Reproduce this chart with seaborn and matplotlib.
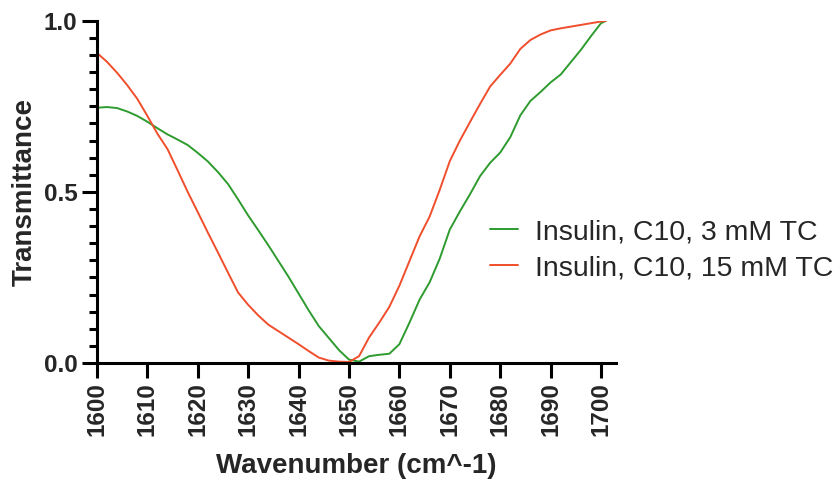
import matplotlib
matplotlib.use("Agg")
import matplotlib.pyplot as plt
from matplotlib.ticker import MultipleLocator
import pandas as pd
import seaborn as sns

# Wavenumber grid (cm^-1) shared by both spectra
wavenumber = [
    1600, 1602, 1604, 1606, 1608, 1610, 1612, 1614, 1616, 1618,
    1620, 1622, 1624, 1626, 1628, 1630, 1632, 1634, 1636, 1638,
    1640, 1642, 1644, 1646, 1648, 1650, 1652, 1654, 1656, 1658,
    1660, 1662, 1664, 1666, 1668, 1670, 1672, 1674, 1676, 1678,
    1680, 1682, 1684, 1686, 1688, 1690, 1692, 1694, 1696, 1698,
    1700, 1701,
]

# Normalised transmittance, 3 mM TC
trans_3mM = [
    0.746, 0.748, 0.745, 0.735, 0.722, 0.705, 0.686, 0.668, 0.653, 0.637,
    0.614, 0.589, 0.558, 0.523, 0.478, 0.431, 0.388, 0.344, 0.298, 0.252,
    0.203, 0.154, 0.108, 0.073, 0.038, 0.010, 0.004, 0.020, 0.024, 0.027,
    0.055, 0.118, 0.185, 0.236, 0.305, 0.390, 0.443, 0.493, 0.546, 0.585,
    0.615, 0.660, 0.724, 0.766, 0.792, 0.820, 0.843, 0.879, 0.915, 0.955,
    0.993, 1.000,
]

# Normalised transmittance, 15 mM TC
trans_15mM = [
    0.906, 0.880, 0.848, 0.812, 0.772, 0.722, 0.670, 0.625, 0.563, 0.500,
    0.441, 0.381, 0.323, 0.264, 0.206, 0.170, 0.139, 0.112, 0.093, 0.074,
    0.055, 0.035, 0.016, 0.007, 0.004, 0.003, 0.020, 0.075, 0.118, 0.164,
    0.226, 0.298, 0.370, 0.428, 0.506, 0.590, 0.650, 0.704, 0.757, 0.808,
    0.842, 0.875, 0.918, 0.944, 0.960, 0.972, 0.978, 0.983, 0.988, 0.993,
    0.998, 1.000,
]

series_names = ["Insulin, C10, 3 mM TC", "Insulin, C10, 15 mM TC"]
series_colors = ["#2E9B2E", "#F04E2C"]
x_ticks = [1600, 1610, 1620, 1630, 1640, 1650, 1660, 1670, 1680, 1690, 1700]

df = pd.concat([
    pd.DataFrame({"Wavenumber": wavenumber, "Transmittance": trans_3mM,
                  "Sample": series_names[0]}),
    pd.DataFrame({"Wavenumber": wavenumber, "Transmittance": trans_15mM,
                  "Sample": series_names[1]}),
])

sns.set_theme(style="ticks")
plt.rcParams["font.family"] = ["Liberation Sans", "DejaVu Sans"]

fig = plt.figure(figsize=(8.36, 4.84), dpi=100)
ax = fig.add_axes([0.116, 0.25, 0.621, 0.707])

sns.lineplot(data=df, x="Wavenumber", y="Transmittance", hue="Sample",
             hue_order=series_names, palette=series_colors,
             linewidth=1.4, ax=ax, sort=False, legend=True)

ax.set_xlim(1600, 1703)
ax.set_ylim(0, 1.0)
ax.set_xticks(x_ticks)
ax.set_xticklabels([str(t) for t in x_ticks], rotation=90,
                   fontsize=17.5, fontweight="bold")
ax.set_yticks([0.0, 0.5, 1.0])
ax.set_yticklabels(["0.0", "0.5", "1.0"], fontsize=17.5, fontweight="bold")
ax.yaxis.set_minor_locator(MultipleLocator(0.05))

ax.tick_params(axis="both", which="major", direction="out", length=11,
               width=2.2, color="black", pad=3)
ax.tick_params(axis="y", which="minor", direction="out", length=6,
               width=2.2, color="black")

for side in ("top", "right"):
    ax.spines[side].set_visible(False)
for side in ("left", "bottom"):
    ax.spines[side].set_linewidth(2.2)
    ax.spines[side].set_color("black")

ax.set_xlabel("Wavenumber (cm^-1)", fontsize=20, fontweight="bold", labelpad=12)
ax.set_ylabel("Transmittance", fontsize=20, fontweight="bold", labelpad=4)

# Legend sits to the right of the curves, overlapping the axes' right part
handles, labels = ax.get_legend_handles_labels()
ax.get_legend().remove()
leg = fig.legend(handles, labels, loc="center left",
                 bbox_to_anchor=(0.586, 0.483), bbox_transform=fig.transFigure,
                 frameon=False, fontsize=20.5, handlelength=1.0,
                 handletextpad=0.6, labelspacing=0.36,
                 borderpad=0, borderaxespad=0)
for line in leg.get_lines():
    line.set_linewidth(1.4)

fig.savefig("out.png", dpi=100)
